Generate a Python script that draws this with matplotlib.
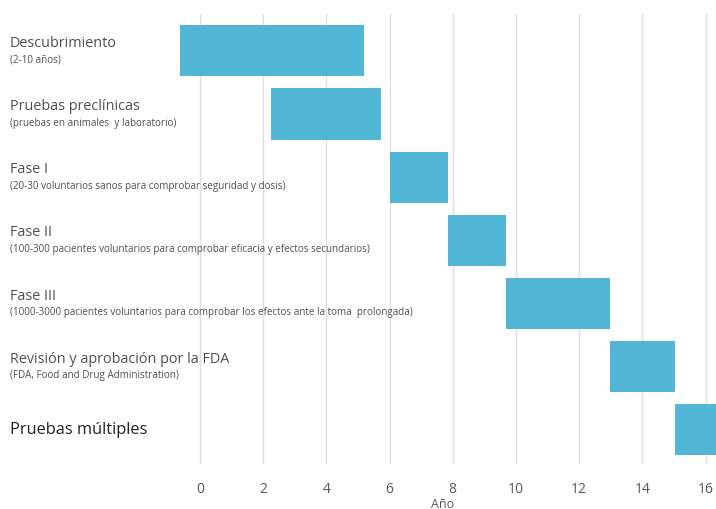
import matplotlib.pyplot as plt
from matplotlib.transforms import blended_transform_factory

# Fases del desarrollo de un fármaco (años)
fases = ["Descubrimiento", "Pruebas preclínicas", "Fase I", "Fase II", "Fase III",
         "Revisión y aprobación por la FDA", "Pruebas múltiples"]
notas = ["(2-10 años)",
         "(pruebas en animales  y laboratorio)",
         "(20-30 voluntarios sanos para comprobar seguridad y dosis)",
         "(100-300 pacientes voluntarios para comprobar eficacia y efectos secundarios)",
         "(1000-3000 pacientes voluntarios para comprobar los efectos ante la toma  prolongada)",
         "(FDA, Food and Drug Administration)",
         ""]
inicio = [-0.62, 2.25, 6.0, 7.85, 9.68, 12.97, 15.03]
duracion = [5.81, 3.48, 1.85, 1.83, 3.29, 2.06, 2.0]
ticks = [0, 2, 4, 6, 8, 10, 12, 14, 16]

plt.rcParams['font.family'] = ['Open Sans', 'DejaVu Sans']

fig = plt.figure(figsize=(7.16, 5.10), dpi=100)
ax = fig.add_axes([0.235, 0.088, 0.765, 0.882])

y = list(range(len(fases)))
ax.barh(y, duracion, left=inicio, height=0.81, color="#52b6d6", zorder=2)

ax.set_xlim(-1.0, 16.33)
ax.set_ylim(6.55, -0.58)
ax.set_xticks(ticks)
ax.set_yticks([])
ax.grid(axis="x", color="#e2dcdc", linewidth=1.0, zorder=0)
for s in ax.spines.values():
    s.set_visible(False)
ax.tick_params(axis="x", length=0, labelsize=10, labelcolor="#595959", pad=12)
ax.set_xlabel("Año", fontsize=9, color="#595959", labelpad=1)

tr = blended_transform_factory(fig.transFigure, ax.transData)
for i, (f, n) in enumerate(zip(fases, notas)):
    if n:
        ax.text(0.014, i - 0.13, f, transform=tr, fontsize=10.4, color="#505050",
                va="center", ha="left")
        ax.text(0.014, i + 0.13, n, transform=tr, fontsize=7.1, color="#505050",
                va="center", ha="left")
    else:
        ax.text(0.014, i, f, transform=tr, fontsize=11.8, color="#222222",
                va="center", ha="left")

fig.savefig("out.png", dpi=100)
